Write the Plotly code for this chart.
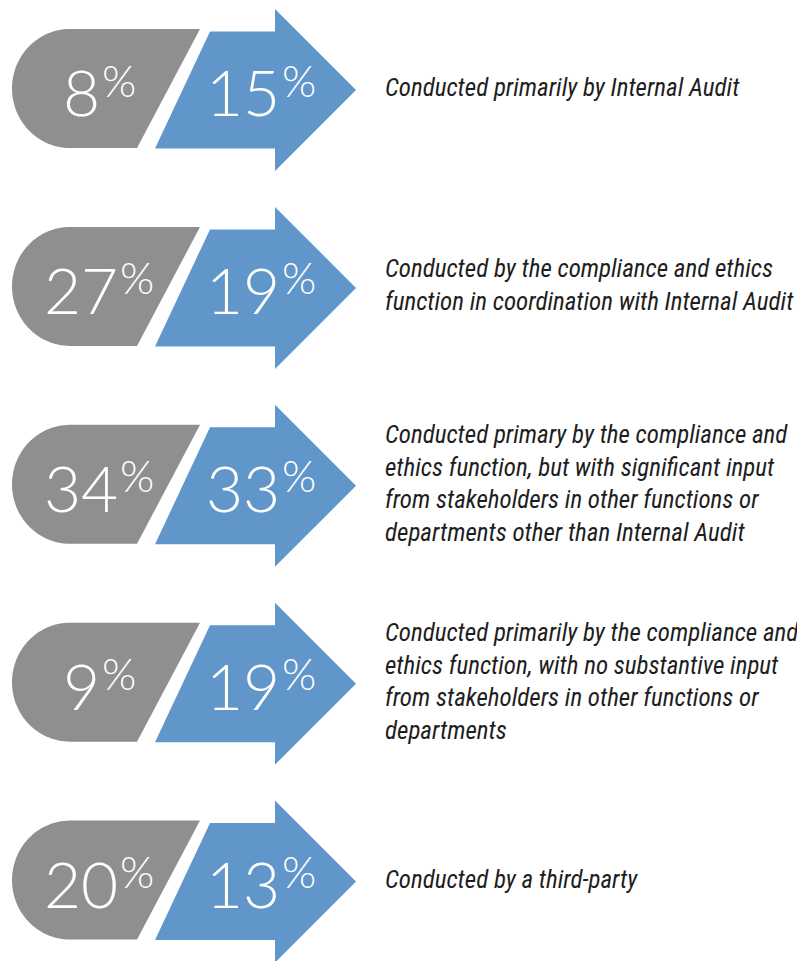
import numpy as np
import plotly.graph_objects as go

# ---- data ----
categories = [
    "Conducted primarily by Internal Audit",
    "Conducted by the compliance and ethics<br>function in coordination with Internal Audit",
    "Conducted primary by the compliance and<br>ethics function, but with significant input<br>from stakeholders in other functions or<br>departments other than Internal Audit",
    "Conducted primarily by the compliance and<br>ethics function, with no substantive input<br>from stakeholders in other functions or<br>departments",
    "Conducted by a third-party",
]
gray_values = [8, 27, 34, 9, 20]
blue_values = [15, 19, 33, 19, 13]

# ---- layout / style ----
W, H = 805, 961
OFF = 8  # page body margin
GRAY = "#8f8f8f"
BLUE = "#6096c9"
first_c, step = 88.5, 197.9
NUM_FONT = "Lato, Open Sans, sans-serif"
TXT_FONT = "Roboto, sans-serif"
NUM_SIZE, PCT_SIZE = 64, 44
DIGIT_W, PCT_W, GAP = 36, 36, 0

shapes, annotations = [], []


def path_from(points):
    return "M " + " L ".join(f"{x:.2f},{y:.2f}" for x, y in points) + " Z"


def add_value(value, center_x, c):
    s = str(value)
    total = len(s) * DIGIT_W + GAP + PCT_W
    xr = center_x - total / 2 + len(s) * DIGIT_W
    annotations.append(dict(x=xr, y=c + 3, text=s, showarrow=False,
                            xanchor="right", yanchor="middle", borderpad=0,
                            font=dict(family=NUM_FONT, size=NUM_SIZE, color="white", weight=300)))
    annotations.append(dict(x=xr + GAP, y=c - 9, text="%", showarrow=False,
                            xanchor="left", yanchor="middle", borderpad=0,
                            font=dict(family=NUM_FONT, size=PCT_SIZE, color="white", weight=300)))


for i, (cat, g, b) in enumerate(zip(categories, gray_values, blue_values)):
    c = first_c + i * step
    # gray capsule
    top, bot = c - 59.5, c + 59.5
    cx, rx, ry = 70, 58, 59.5
    th = np.linspace(np.pi / 2, 3 * np.pi / 2, 60)
    arc_pts = [(cx + rx * np.cos(t), c + ry * np.sin(t)) for t in th]
    pts = [(cx, top), (200, top), (137, bot)] + arc_pts
    shapes.append(dict(type="path", path=path_from(pts), fillcolor=GRAY,
                       line=dict(width=0), layer="below"))
    # blue arrow
    bc = c + 1.5
    bt, bb = bc - 58.5, bc + 58.5
    apts = [(210, bt), (275, bt), (275, bc - 81), (356, bc), (275, bc + 81),
            (275, bb), (155, bb)]
    shapes.append(dict(type="path", path=path_from(apts), fillcolor=BLUE,
                       line=dict(width=0), layer="below"))
    add_value(g, 101, c)
    add_value(b, 263, c)
    annotations.append(dict(x=383, y=c - 1,
                            text=f"<span style='font-stretch:condensed'><i>{cat}</i></span>",
                            showarrow=False, xanchor="left", yanchor="middle", align="left",
                            font=dict(family=TXT_FONT, size=25, color="#1e1e1e")))

fig = go.Figure()
fig.update_layout(
    width=W - OFF, height=H - OFF,
    margin=dict(l=0, r=0, t=0, b=0),
    paper_bgcolor="white", plot_bgcolor="white",
    xaxis=dict(range=[OFF, W], visible=False, fixedrange=True),
    yaxis=dict(range=[H, OFF], visible=False, fixedrange=True),
    shapes=shapes, annotations=annotations, showlegend=False,
)
fig.write_html("out.html")
